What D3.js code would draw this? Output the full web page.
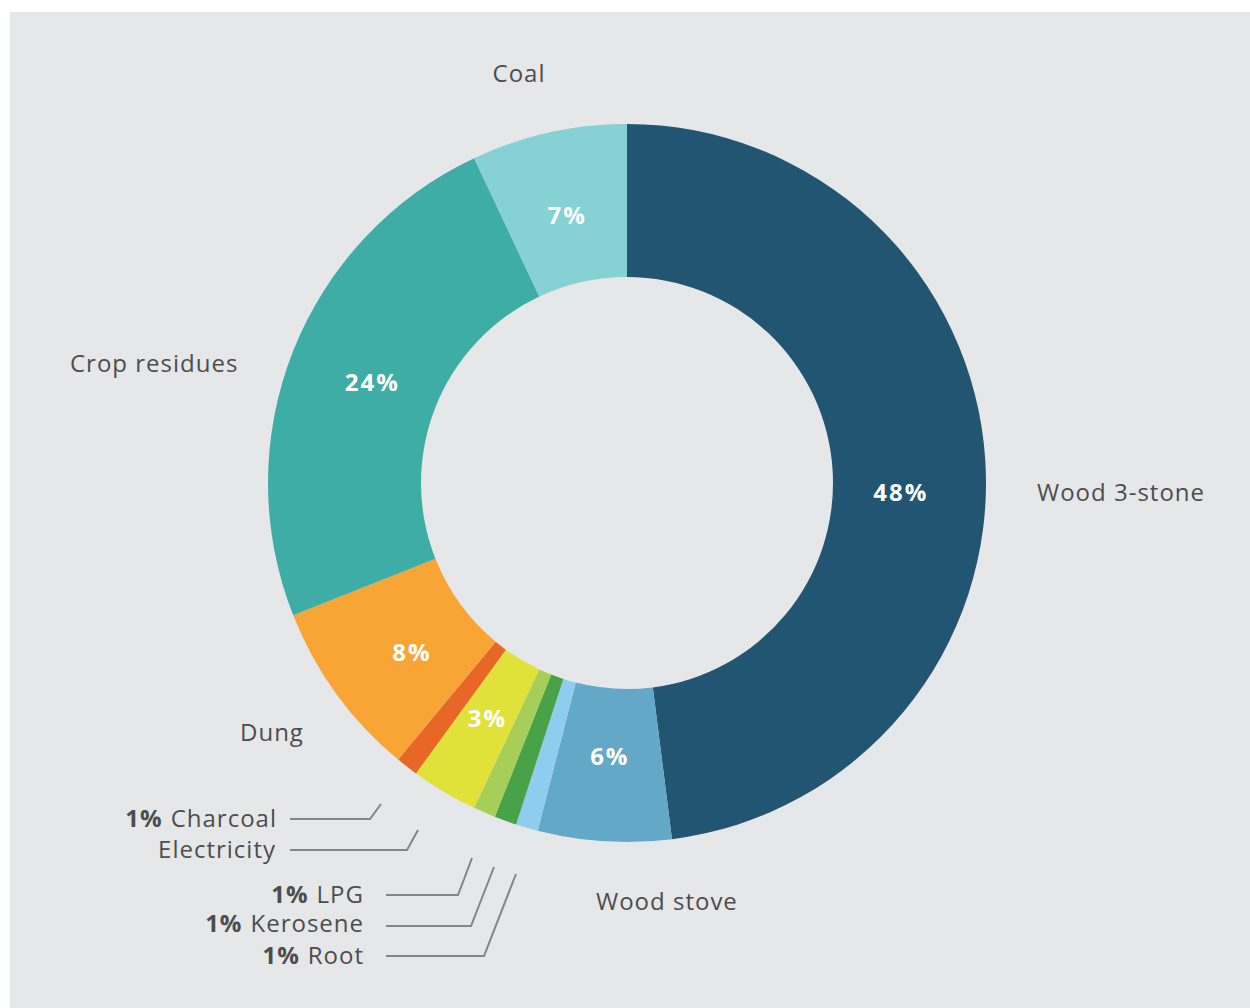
<!DOCTYPE html>
<html>
<head>
<meta charset="utf-8">
<script src="https://cdn.jsdelivr.net/npm/d3@7"></script>
<style>
  html, body { margin: 0; padding: 0; background: #ffffff; }
  svg { display: block; }
  text { font-family: "Open Sans", Lato, sans-serif; }
</style>
</head>
<body>
<svg id="chart" width="1250" height="1008"></svg>
<script>
// Household cooking fuel shares (%), clockwise from 12 o'clock
const categories = ["Wood 3-stone", "Wood stove", "Root", "Kerosene", "LPG",
                    "Electricity", "Charcoal", "Dung", "Crop residues", "Coal"];
const shares = [48, 6, 1, 1, 1, 3, 1, 8, 24, 7];
const colors = ["#215571", "#63a8c6", "#8fcdef", "#48a248", "#a6cf5a",
                "#e0e23a", "#e86726", "#f8a535", "#3dada5", "#86d1d4"];
// Slices whose share is printed inside the ring
const insideLabelled = ["Wood 3-stone", "Wood stove", "Electricity", "Dung", "Crop residues", "Coal"];

const W = 1250, H = 1008;
const cx = 627, cy = 483;
const rOuter = 359, rInner = 206;

const svg = d3.select("#chart");

// panel background
svg.append("rect").attr("x", 10).attr("y", 12)
  .attr("width", W - 10).attr("height", H - 12).attr("fill", "#e6e7e8");

const data = categories.map((c, i) => ({ name: c, value: shares[i], color: colors[i] }));

const pie = d3.pie().value(d => d.value).sort(null);
const arcs = pie(data);
const arc = d3.arc().innerRadius(rInner).outerRadius(rOuter);

const g = svg.append("g").attr("transform", `translate(${cx},${cy})`);

g.selectAll("path.slice").data(arcs).join("path")
  .attr("class", "slice")
  .attr("d", arc)
  .attr("fill", d => d.data.color);

// values printed inside the ring
const labelR = 274;
const deg = Math.PI / 180;
const labelAngleOverride = { "Wood 3-stone": 92 * deg, "Dung": 231.7 * deg };
const labelAngle = d => labelAngleOverride[d.data.name] ?? (d.startAngle + d.endAngle) / 2;
g.selectAll("text.pct").data(arcs.filter(d => insideLabelled.includes(d.data.name))).join("text")
  .attr("class", "pct")
  .attr("x", d => labelR * Math.sin(labelAngle(d)))
  .attr("y", d => -labelR * Math.cos(labelAngle(d)))
  .attr("dy", "0.36em")
  .attr("text-anchor", "middle")
  .attr("fill", "#ffffff")
  .attr("font-weight", 700)
  .attr("font-size", 24)
  .attr("letter-spacing", 2)
  .text(d => d.data.value + "%");

// outer category names placed around the ring
const textColor = "#4d4d4f";
const outerNames = [
  { name: "Coal", x: 519, y: 82, anchor: "middle" },
  { name: "Crop residues", x: 70, y: 372, anchor: "start" },
  { name: "Wood 3-stone", x: 1037, y: 501, anchor: "start" },
  { name: "Dung", x: 240, y: 741, anchor: "start" },
  { name: "Wood stove", x: 596, y: 910, anchor: "start" }
];
svg.selectAll("text.outer").data(outerNames).join("text")
  .attr("class", "outer")
  .attr("x", d => d.x).attr("y", d => d.y)
  .attr("text-anchor", d => d.anchor)
  .attr("fill", textColor)
  .attr("font-size", 24)
  .attr("letter-spacing", 1)
  .text(d => d.name);

// small slices: callouts with leader lines
const callouts = [
  { name: "Charcoal", showPct: true, tx: 277, ty: 827, pts: [[290, 819], [370, 819], [381, 804]] },
  { name: "Electricity", showPct: false, tx: 276, ty: 858, pts: [[290, 850], [407, 850], [418, 830]] },
  { name: "LPG", showPct: true, tx: 364, ty: 903, pts: [[386, 895], [458, 895], [472, 858]] },
  { name: "Kerosene", showPct: true, tx: 364, ty: 932, pts: [[386, 926], [471, 926], [494, 867]] },
  { name: "Root", showPct: true, tx: 364, ty: 964, pts: [[386, 956], [484, 956], [516, 874]] }
];
const shareOf = name => shares[categories.indexOf(name)];

svg.selectAll("path.leader").data(callouts).join("path")
  .attr("class", "leader")
  .attr("d", d => d3.line()(d.pts))
  .attr("fill", "none")
  .attr("stroke", "#7d8790")
  .attr("stroke-width", 2);

const ct = svg.selectAll("text.callout").data(callouts).join("text")
  .attr("class", "callout")
  .attr("x", d => d.tx).attr("y", d => d.ty)
  .attr("text-anchor", "end")
  .attr("fill", textColor)
  .attr("font-size", 24)
  .attr("letter-spacing", 1);
ct.filter(d => d.showPct).append("tspan")
  .attr("font-weight", 700)
  .text(d => shareOf(d.name) + "%");
ct.append("tspan")
  .attr("dx", d => d.showPct ? 8 : 0)
  .text(d => d.name);
</script>
</body>
</html>
